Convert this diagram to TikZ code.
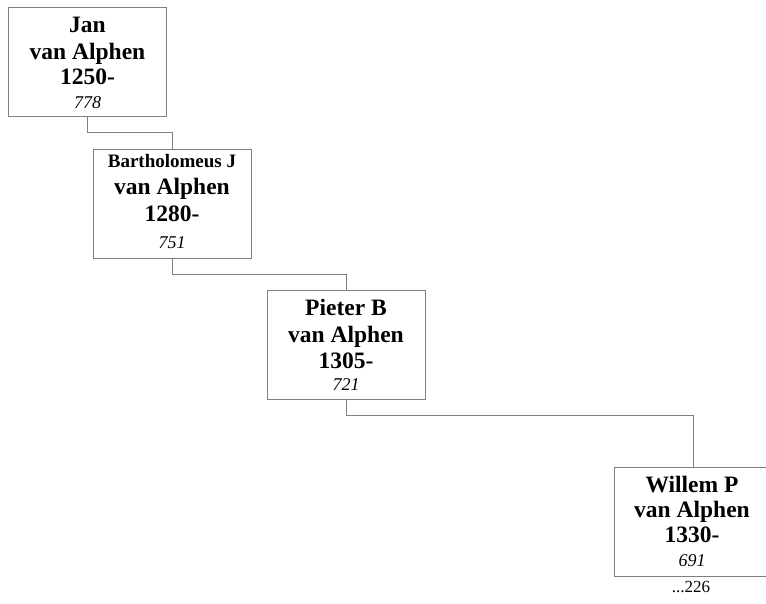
\documentclass[tikz,border=0pt]{standalone}
\usepackage{fontspec}
\setmainfont{Liberation Serif}
\usetikzlibrary{calc}
\begin{document}
\begin{tikzpicture}[x=1pt,y=-1pt,
  pbox/.style={draw=black!50, line width=0.9pt, fill=white, minimum width=158pt, minimum height=109pt, inner sep=0pt, anchor=north},
  link/.style={draw=black!50, line width=0.9pt},
  big/.style={font=\fontsize{23.5}{26}\selectfont\bfseries, inner sep=0pt, anchor=base},
  mid/.style={font=\fontsize{19}{22}\selectfont\bfseries, inner sep=0pt, anchor=base},
  num/.style={font=\fontsize{18}{20}\selectfont\itshape, inner sep=0pt, anchor=base},
  note/.style={font=\fontsize{17}{20}\selectfont, inner sep=0pt, anchor=base}]
\useasboundingbox (0,0) rectangle (766,604);
% boxes
\node[pbox] (b1) at (87.5,7) {};
\node[pbox] (b2) at (172,149) {};
\node[pbox] (b3) at (346,290) {};
\node[pbox] (b4) at (693.5,467) {};
% connectors
\draw[link] (b1.south) |- ($(b1.south)+(0,16)$) -| (b2.north);
\draw[link] (b2.south) |- ($(b2.south)+(0,16)$) -| (b3.north);
\draw[link] (b3.south) |- ($(b3.south)+(0,16)$) -| (b4.north);
% box 1
\node[big] (t11) at ($(b1.north)+(0,26)$) {Jan};
\node[big] (t12) at ($(b1.north)+(0,53)$) {van Alphen};
\node[big] (t13) at ($(b1.north)+(0,78)$) {1250-};
\node[num] (t14) at ($(b1.north)+(0,102)$) {778};
% box 2
\node[mid] (t21) at ($(b2.north)+(0,19)$) {Bartholomeus J};
\node[big] (t22) at ($(b2.north)+(0,46)$) {van Alphen};
\node[big] (t23) at ($(b2.north)+(0,73)$) {1280-};
\node[num] (t24) at ($(b2.north)+(0,100)$) {751};
% box 3
\node[big] (t31) at ($(b3.north)+(0,25)$) {Pieter B};
\node[big] (t32) at ($(b3.north)+(0,52)$) {van Alphen};
\node[big] (t33) at ($(b3.north)+(0,78)$) {1305-};
\node[num] (t34) at ($(b3.north)+(0,100)$) {721};
% box 4
\node[big] (t41) at ($(b4.north)+(-1.5,25)$) {Willem P};
\node[big] (t42) at ($(b4.north)+(-1.5,50)$) {van Alphen};
\node[big] (t43) at ($(b4.north)+(-1.5,75)$) {1330-};
\node[num] (t44) at ($(b4.north)+(-1.5,99)$) {691};
\node[note] (more) at ($(b4.south)+(-2.5,16)$) {...226};
\end{tikzpicture}
\end{document}
